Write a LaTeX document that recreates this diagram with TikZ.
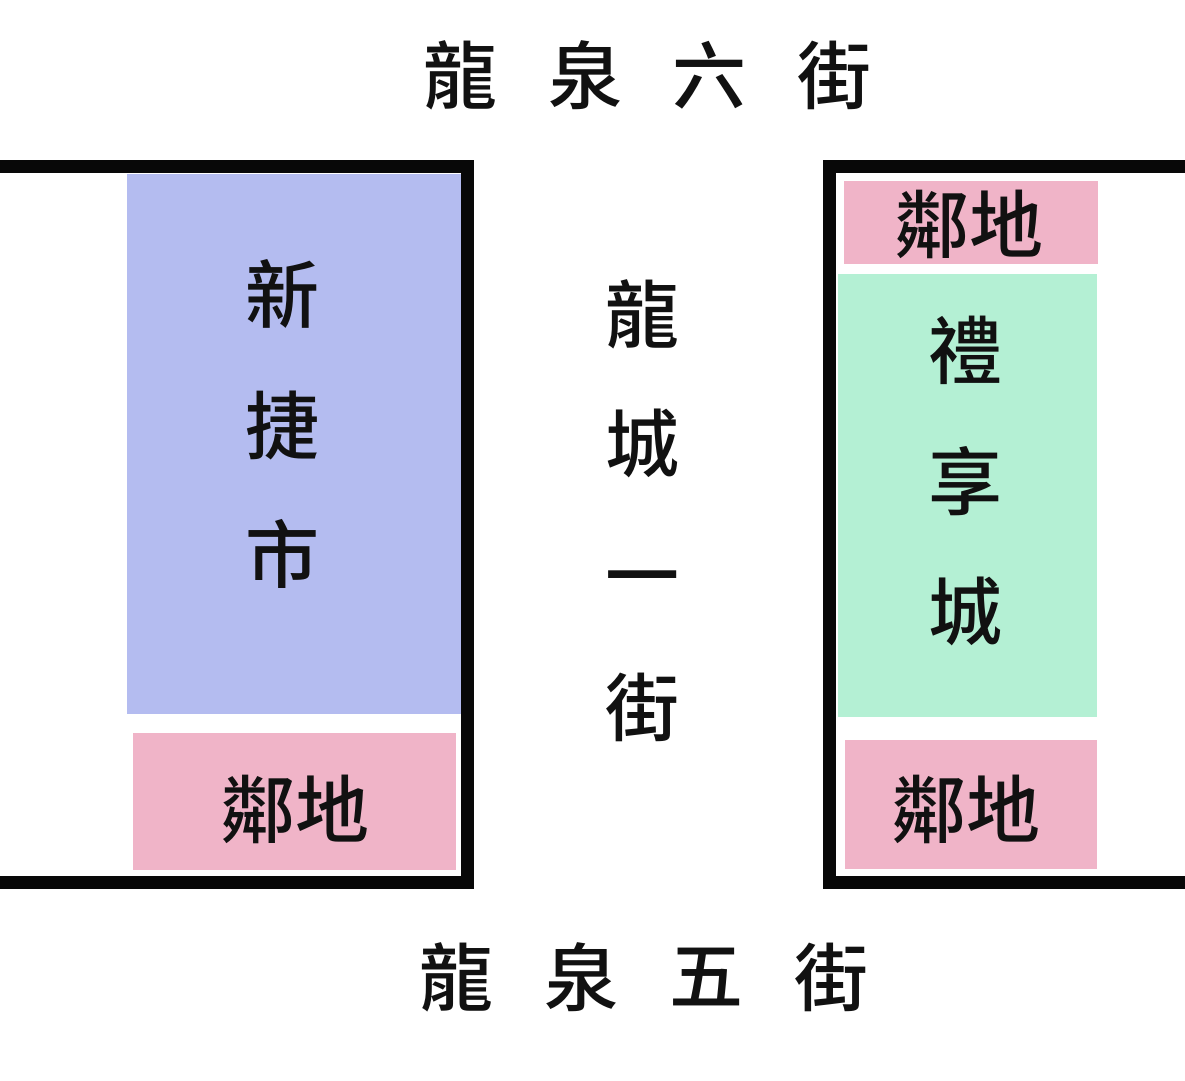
\documentclass[tikz,border=0pt]{standalone}
\usepackage{fontspec}
\newfontfamily\cjk[UprightFont={* Medium}]{Noto Sans CJK TC}
\definecolor{blueA}{RGB}{180,188,240}
\definecolor{pinkA}{RGB}{240,180,200}
\definecolor{greenA}{RGB}{180,240,212}
\definecolor{inkA}{RGB}{17,17,17}
\begin{document}
\begin{tikzpicture}[x=1pt,y=-1pt,
  ch/.style={inner sep=0pt,text=inkA,font=\cjk\fontsize{74}{74}\selectfont},
  wall/.style={line width=13pt,draw=black!97,line join=miter}]
\useasboundingbox (0,0) rectangle (1185,1080);
\fill[white] (0,0) rectangle (1185,1080);
% zones
\fill[blueA] (127,174) rectangle (461,714);
\fill[pinkA] (133,733) rectangle (456,870);
\fill[pinkA] (844,181) rectangle (1098,264);
\fill[greenA] (838,274) rectangle (1097,717);
\fill[pinkA] (845,740) rectangle (1097,869);
% walls
\draw[wall] (0,166.5) -- (467,166.5) -- (467,882.5) -- (0,882.5);
\draw[wall] (1185,166.5) -- (829.5,166.5) -- (829.5,882.5) -- (1185,882.5);
% top street
\node[ch] (t1) at (460,75) {龍};
\node[ch] (t2) at (585,75) {泉};
\node[ch] (t3) at (709,75) {六};
\node[ch] (t4) at (834,75) {街};
% bottom street
\node[ch] (b1) at (456,977) {龍};
\node[ch] (b2) at (581,977) {泉};
\node[ch] (b3) at (706,977) {五};
\node[ch] (b4) at (831,977) {街};
% middle street
\node[ch] (m1) at (642,314) {龍};
\node[ch] (m2) at (642,443) {城};
\node[ch] (m3) at (642,587) {一};
\node[ch] (m4) at (642,707) {街};
% left
\node[ch] (l1) at (282,294) {新};
\node[ch] (l2) at (282,425) {捷};
\node[ch] (l3) at (282,554) {市};
\node[ch] (l4) at (295,809) {鄰地};
% right
\node[ch] (r0) at (969,224) {鄰地};
\node[ch] (r1) at (965,350) {禮};
\node[ch] (r2) at (965,481) {享};
\node[ch] (r3) at (965,611) {城};
\node[ch] (r4) at (966,809) {鄰地};
\end{tikzpicture}
\end{document}
